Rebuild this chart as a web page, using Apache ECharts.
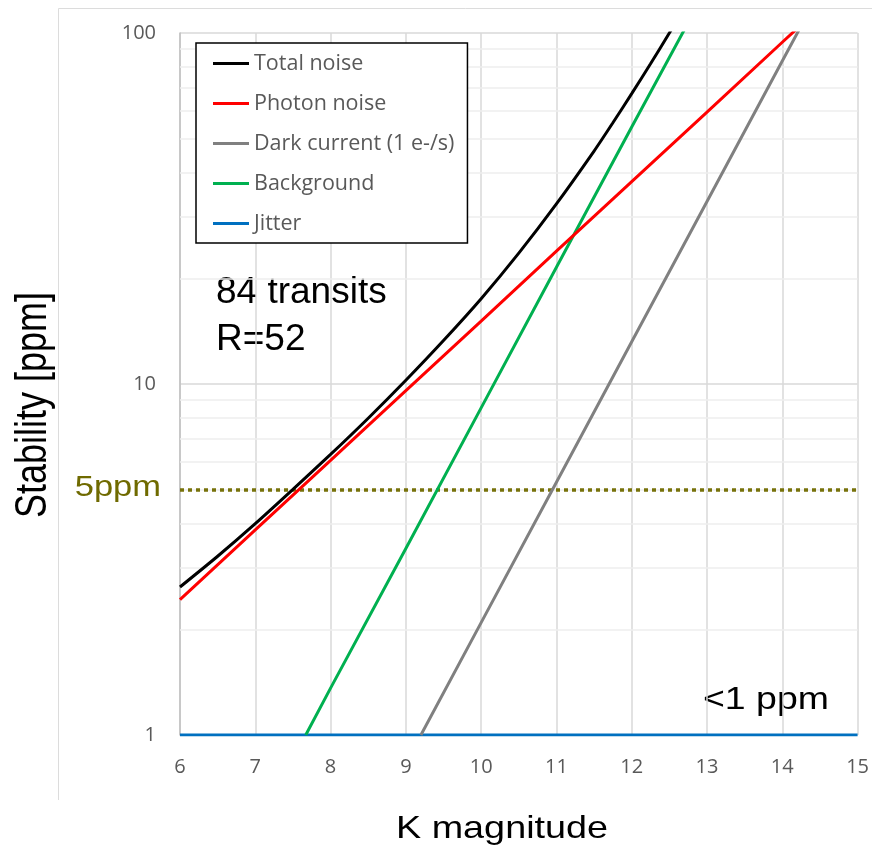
<!DOCTYPE html>
<html>
<head>
<meta charset="utf-8">
<script src="https://cdn.jsdelivr.net/npm/echarts@6/dist/echarts.min.js"></script>
<style>
  html, body { margin: 0; padding: 0; background: #ffffff; }
  #chart { width: 872px; height: 853px; }
</style>
</head>
<body>
<div id="chart"></div>
<script>
// ---- Data ----
const totalMag    = [6, 6.5, 7, 7.5, 8, 8.5, 9, 9.5, 10, 10.5, 11, 11.5, 11.75, 12, 12.25, 12.5, 12.6];
const totalNoise  = [2.64, 3.23, 4.00, 5.01, 6.30, 7.99, 10.25, 13.3, 17.5, 23.6, 32.6, 46.1, 55.5, 67.2, 81.7, 100.0, 108.5];

const photonMag   = [6, 7, 8, 9, 10, 11, 12, 13, 14, 14.3];
const photonNoise = [2.43, 3.84, 6.06, 9.58, 15.1, 23.9, 37.7, 59.5, 94.1, 107.9];

const darkMag     = [9.2, 10, 11, 12, 13, 14, 14.3];
const darkNoise   = [1.0, 2.09, 5.25, 13.2, 33.1, 83.2, 109.6];

const bgMag       = [7.67, 8, 9, 10, 11, 12, 12.75];
const bgNoise     = [1.0, 1.36, 3.40, 8.55, 21.5, 54.0, 107.0];

const jitterMag   = [6, 15];
const jitterNoise = [1, 1];

const seriesNames = ['Total noise', 'Photon noise', 'Dark current (1 e-/s)', 'Background', 'Jitter'];
const seriesColors = ['#000000', '#ff0000', '#808080', '#00b050', '#0070c0'];

const minorGrid = [2, 3, 4, 5, 6, 7, 8, 9, 20, 30, 40, 50, 60, 70, 80, 90];
const requirement = 5;           // 5 ppm dotted line
const xMin = 6, xMax = 15, xStep = 1;
const yMin = 1, yMax = 100;

const pairs = (xs, ys) => xs.map((x, i) => [x, ys[i]]);

const chart = echarts.init(document.getElementById('chart'), null, { renderer: 'canvas' });

const tickFont = 'Open Sans';
const bigFont = 'Liberation Sans';

function lineSeries(name, color, xs, ys, smooth) {
  return {
    name: name,
    type: 'line',
    data: pairs(xs, ys),
    symbol: 'none',
    smooth: smooth ? 0.25 : false,
    clip: true,
    lineStyle: { color: color, width: 3 },
    itemStyle: { color: color },
    z: 5
  };
}

const option = {
  backgroundColor: '#ffffff',
  animation: false,
  grid: { left: 180, right: 14, top: 33, bottom: 118, containLabel: false },
  xAxis: {
    type: 'value',
    min: xMin, max: xMax, interval: xStep,
    axisLine: { show: false },
    axisTick: { show: false },
    axisLabel: { color: '#595959', fontFamily: tickFont, fontSize: 20, margin: 22 },
    splitLine: { show: true, lineStyle: { color: '#d9d9d9', width: 1.5 } }
  },
  yAxis: {
    type: 'log',
    logBase: 10,
    min: yMin, max: yMax,
    axisLine: { show: true, lineStyle: { color: '#bfbfbf', width: 1.5 } },
    axisTick: { show: false },
    axisLabel: { color: '#595959', fontFamily: tickFont, fontSize: 20, margin: 24 },
    splitLine: { show: true, lineStyle: { color: '#d9d9d9', width: 1.5 } },
    minorTick: { show: false },
    minorSplitLine: { show: false }
  },
  legend: {
    data: seriesNames,
    orient: 'vertical',
    left: 196, top: 43,
    z: 20,
    padding: [9, 13, 8, 17],
    itemGap: 17,
    icon: 'rect',
    itemWidth: 36, itemHeight: 3,
    backgroundColor: '#ffffff',
    borderColor: '#000000', borderWidth: 1.5,
    textStyle: { color: '#595959', fontFamily: tickFont, fontSize: 21.5, lineHeight: 23 }
  },
  series: [
    {
      name: 'minor-grid',
      type: 'line',
      data: [],
      silent: true,
      z: 1,
      markLine: {
        silent: true,
        z: 1,
        symbol: ['none', 'none'],
        label: { show: false },
        lineStyle: { color: '#eeeeee', width: 1.5, type: 'solid' },
        data: minorGrid.map(v => ({ yAxis: v }))
      }
    },
    {
      name: 'requirement',
      type: 'line',
      data: [],
      silent: true,
      z: 3,
      markLine: {
        silent: true,
        z: 3,
        symbol: ['none', 'none'],
        label: { show: false },
        lineStyle: { color: '#77720a', width: 3.5, type: [4, 4] },
        data: [{ yAxis: requirement }]
      }
    },
    lineSeries(seriesNames[4], seriesColors[4], jitterMag, jitterNoise, false),
    lineSeries(seriesNames[3], seriesColors[3], bgMag, bgNoise, false),
    lineSeries(seriesNames[2], seriesColors[2], darkMag, darkNoise, false),
    lineSeries(seriesNames[1], seriesColors[1], photonMag, photonNoise, false),
    lineSeries(seriesNames[0], seriesColors[0], totalMag, totalNoise, true)
  ],
  graphic: [
    {
      type: 'polyline', silent: true, z: -10,
      shape: { points: [[58.5, 800], [58.5, 8.5], [872, 8.5]] },
      style: { fill: 'none', stroke: '#dcdcdc', lineWidth: 1 }
    },
    {
      type: 'text', silent: true, x: 34, y: 405, rotation: Math.PI / 2, scaleY: 1.25,
      style: { text: 'Stability [ppm]', fontFamily: bigFont, fontSize: 36, fill: '#000000',
               textAlign: 'center', textVerticalAlign: 'middle' }
    },
    {
      type: 'text', silent: true, x: 502, y: 829, scaleX: 1.18,
      style: { text: 'K magnitude', fontFamily: bigFont, fontSize: 32, fill: '#000000',
               textAlign: 'center', textVerticalAlign: 'middle' }
    },
    {
      type: 'text', silent: true, x: 216, y: 293,
      style: { text: '84 transits', fontFamily: bigFont, fontSize: 37, fill: '#000000',
               textAlign: 'left', textVerticalAlign: 'middle' }
    },
    {
      type: 'text', silent: true, x: 216, y: 340,
      style: { text: 'R=52', fontFamily: bigFont, fontSize: 37, fill: '#000000',
               textAlign: 'left', textVerticalAlign: 'middle' }
    },
    {
      type: 'text', silent: true, x: 703, y: 700, scaleX: 1.17,
      style: { text: '<1 ppm', fontFamily: bigFont, fontSize: 32, fill: '#000000',
               textAlign: 'left', textVerticalAlign: 'middle' }
    },
    {
      type: 'text', silent: true, x: 161, y: 488, scaleX: 1.15,
      style: { text: '5ppm', fontFamily: bigFont, fontSize: 30, fill: '#6f6a00',
               textAlign: 'right', textVerticalAlign: 'middle' }
    }
  ]
};

chart.setOption(option);
</script>
</body>
</html>
